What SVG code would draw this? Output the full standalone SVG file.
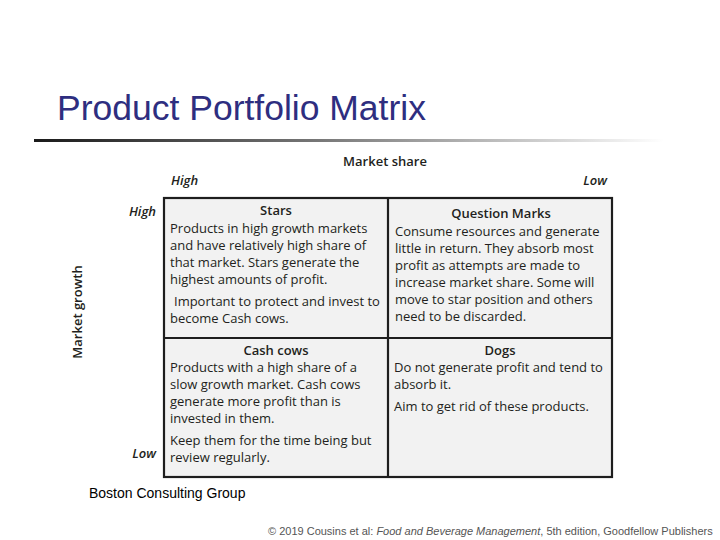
<svg xmlns="http://www.w3.org/2000/svg" width="720" height="540" viewBox="0 0 720 540">
<defs>
<linearGradient id="rule" x1="0" y1="0" x2="1" y2="0">
<stop offset="0" stop-color="#1a1a1a"/>
<stop offset="0.45" stop-color="#777"/>
<stop offset="1" stop-color="#fff"/>
</linearGradient>
<style>
.t{font-family:"Open Sans","Noto Sans",sans-serif;font-size:13px;fill:#231f20}
.b{font-weight:600}
.i{font-style:italic;font-weight:600}
.cell{fill:#f2f2f2;stroke:none}
.ln{stroke:#1e1e1e;stroke-width:2.2;fill:none}
</style>
</defs>
<rect width="720" height="540" fill="#fff"/>
<text x="57" y="120" font-family="Liberation Sans, Arial, sans-serif" font-size="35.5" fill="#2e2e80">Product Portfolio Matrix</text>
<rect x="34" y="139" width="630" height="3" fill="url(#rule)"/>
<g id="axes">
<text class="t b" x="385" y="166" text-anchor="middle">Market share</text>
<text class="t i" x="171" y="185">High</text>
<text class="t i" x="607" y="185" text-anchor="end">Low</text>
<text class="t i" x="156" y="216" text-anchor="end">High</text>
<text class="t i" x="156" y="458" text-anchor="end">Low</text>
<text class="t b" transform="translate(82,312) rotate(-90)" text-anchor="middle">Market growth</text>
</g>
<g id="matrix">
<rect class="cell" x="164" y="198" width="448" height="279"/>
<g class="connectors">
<rect class="ln" x="164" y="198" width="448" height="279"/>
<line class="ln" x1="388" y1="198" x2="388" y2="477"/>
<line class="ln" x1="164" y1="338" x2="612" y2="338"/>
</g>
</g>
<g id="stars">
<text class="t b" x="276" y="215" text-anchor="middle">Stars</text>
<text class="t" x="170" y="233">Products in high growth markets</text>
<text class="t" x="170" y="250">and have relatively high share of</text>
<text class="t" x="170" y="267">that market. Stars generate the</text>
<text class="t" x="170" y="284">highest amounts of profit.</text>
<text class="t" x="174" y="306">Important to protect and invest to</text>
<text class="t" x="170" y="323">become Cash cows.</text>
</g>
<g id="question-marks">
<text class="t b" x="501" y="218" text-anchor="middle">Question Marks</text>
<text class="t" x="395" y="236">Consume resources and generate</text>
<text class="t" x="395" y="253">little in return. They absorb most</text>
<text class="t" x="395" y="270">profit as attempts are made to</text>
<text class="t" x="395" y="287">increase market share. Some will</text>
<text class="t" x="395" y="304">move to star position and others</text>
<text class="t" x="395" y="321">need to be discarded.</text>
</g>
<g id="cash-cows">
<text class="t b" x="276" y="355" text-anchor="middle">Cash cows</text>
<text class="t" x="170" y="372">Products with a high share of a</text>
<text class="t" x="170" y="389">slow growth market. Cash cows</text>
<text class="t" x="170" y="406">generate more profit than is</text>
<text class="t" x="170" y="423">invested in them.</text>
<text class="t" x="170" y="445">Keep them for the time being but</text>
<text class="t" x="170" y="462">review regularly.</text>
</g>
<g id="dogs">
<text class="t b" x="500" y="355" text-anchor="middle">Dogs</text>
<text class="t" x="394" y="372">Do not generate profit and tend to</text>
<text class="t" x="394" y="389">absorb it.</text>
<text class="t" x="394" y="411">Aim to get rid of these products.</text>
</g>
<text x="89" y="498" font-family="Liberation Sans, Arial, sans-serif" font-size="14" fill="#000">Boston Consulting Group</text>
<text x="268" y="535" font-family="Liberation Sans, Arial, sans-serif" font-size="11" fill="#555">© 2019 Cousins et al: <tspan font-style="italic">Food and Beverage Management</tspan>, 5th edition, Goodfellow Publishers</text>
</svg>
